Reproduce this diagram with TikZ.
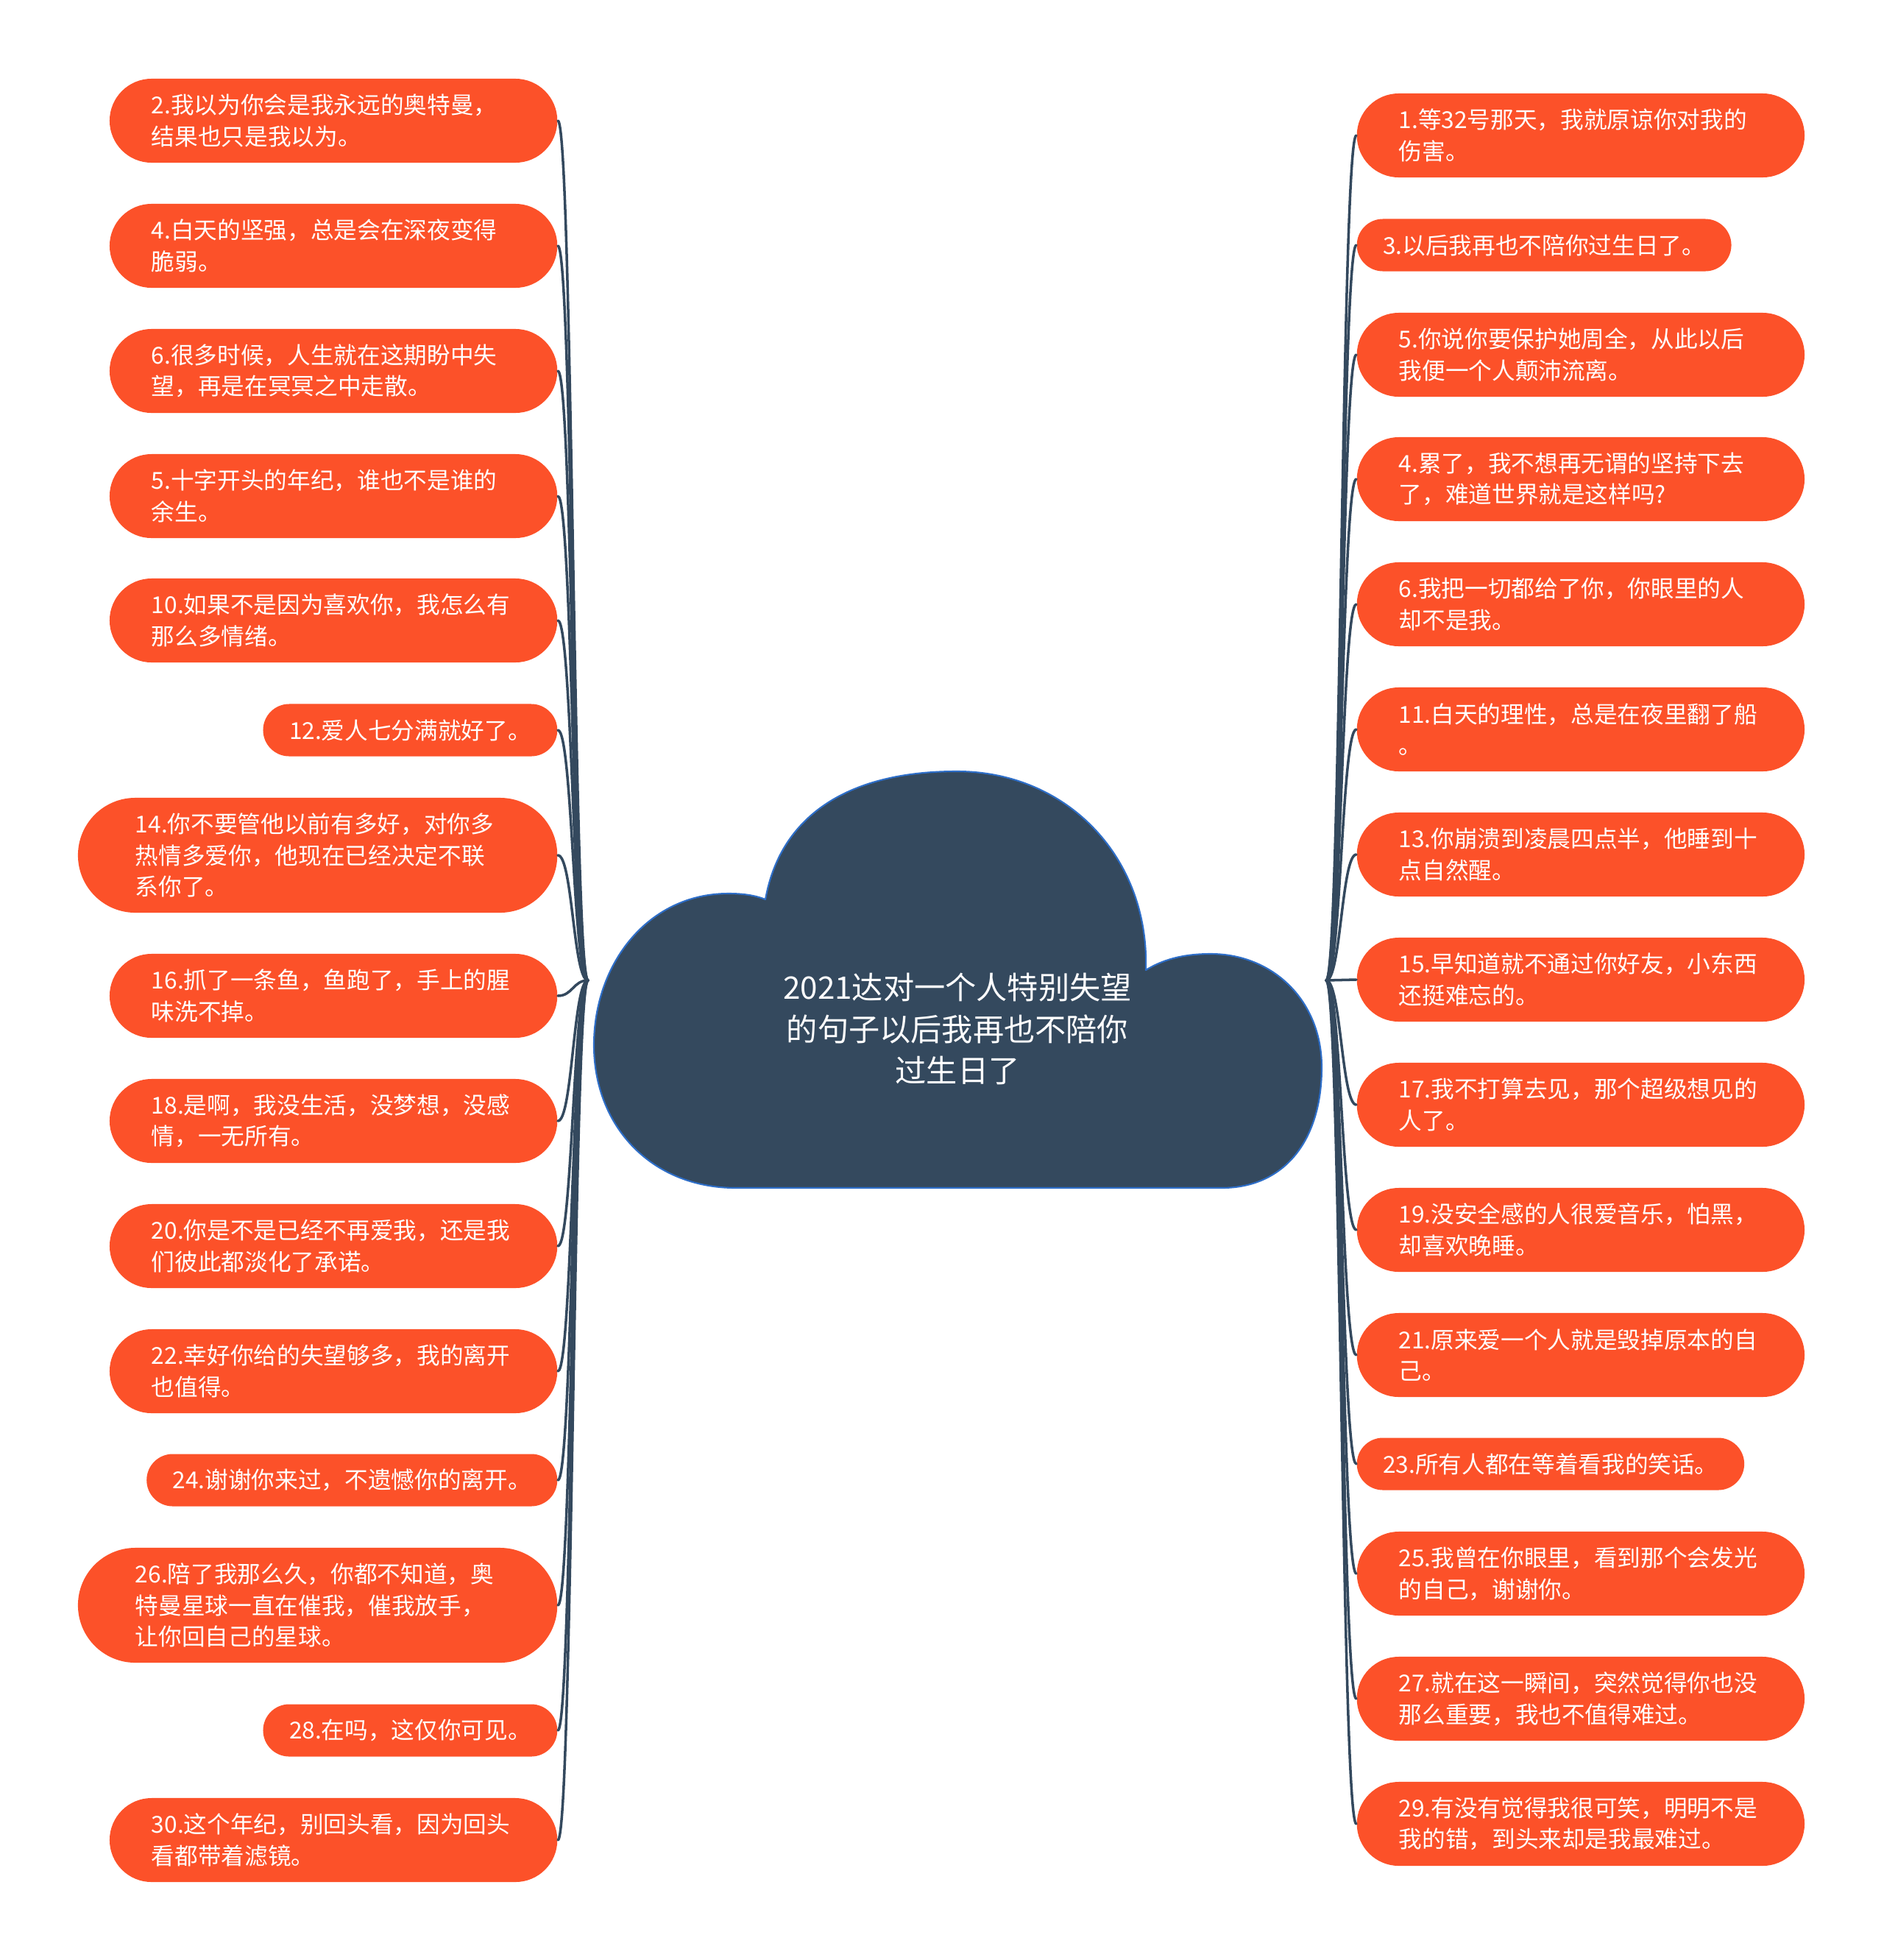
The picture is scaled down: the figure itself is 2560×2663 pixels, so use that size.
\documentclass[tikz,border=0pt]{standalone}
\usepackage{fontspec}
\setmainfont{Noto Sans CJK SC}
\definecolor{leaffill}{RGB}{252,81,41}
\definecolor{slate}{RGB}{52,73,94}
\definecolor{cloudedge}{RGB}{46,110,200}

\begin{document}
\begin{tikzpicture}[line join=round, line cap=round, x=0.01cm, y=-0.01cm]
\tikzset{every node/.style={text=white},
  leafbox/.style={rectangle, fill=leaffill, inner ysep=0pt, align=left, font=\fontsize{9pt}{12.1pt}\selectfont},
  oneline/.style={leafbox, minimum height=0.71cm, inner xsep=0.355cm, rounded corners=0.355cm},
  twoline/.style={leafbox, minimum height=1.14cm, text width=4.94cm, inner xsep=0.57cm, rounded corners=0.57cm},
  threeline/.style={leafbox, minimum height=1.56cm, text width=4.95cm, inner xsep=0.78cm, rounded corners=0.78cm},
  link/.style={draw=slate, line width=1pt}}
\useasboundingbox (0,0) rectangle (2560,2663);
% central cloud
\filldraw[fill=slate, draw=cloudedge, line width=0.6pt] (1000,1614) -- (1660,1614)
  .. controls (1745,1614) and (1796,1550) .. (1796,1450)
  .. controls (1796,1360) and (1730,1296) .. (1645,1296)
  .. controls (1605,1296) and (1578,1305) .. (1557,1318)
  .. controls (1562,1165) and (1450,1048) .. (1300,1048)
  .. controls (1150,1048) and (1060,1110) .. (1040,1222)
  .. controls (1025,1216) and (1008,1214) .. (990,1214)
  .. controls (880,1214) and (807,1310) .. (807,1420)
  .. controls (807,1530) and (885,1614) .. (1000,1614) -- cycle;
\node[align=center, font=\fontsize{12pt}{16pt}\selectfont] (root) at (1301,1398) {2021达对一个人特别失望\\的句子以后我再也不陪你\\过生日了};
\coordinate (rootL) at (799,1332);
\coordinate (rootR) at (1802,1332);
% left side
\node[twoline, anchor=east] (l1) at (758,164) {2.我以为你会是我永远的奥特曼，\\结果也只是我以为。};
\node[twoline, anchor=east] (l2) at (758,334) {4.白天的坚强，总是会在深夜变得\\脆弱。};
\node[twoline, anchor=east] (l3) at (758,504) {6.很多时候，人生就在这期盼中失\\望，再是在冥冥之中走散。};
\node[twoline, anchor=east] (l4) at (758,674) {5.十字开头的年纪，谁也不是谁的\\余生。};
\node[twoline, anchor=east] (l5) at (758,843) {10.如果不是因为喜欢你，我怎么有\\那么多情绪。};
\node[oneline, anchor=east] (l6) at (758,992) {12.爱人七分满就好了。};
\node[threeline, anchor=east] (l7) at (758,1162) {14.你不要管他以前有多好，对你多\\热情多爱你，他现在已经决定不联\\系你了。};
\node[twoline, anchor=east] (l8) at (758,1353) {16.抓了一条鱼，鱼跑了，手上的腥\\味洗不掉。};
\node[twoline, anchor=east] (l9) at (758,1523) {18.是啊，我没生活，没梦想，没感\\情，一无所有。};
\node[twoline, anchor=east] (l10) at (758,1693) {20.你是不是已经不再爱我，还是我\\们彼此都淡化了承诺。};
\node[twoline, anchor=east] (l11) at (758,1863) {22.幸好你给的失望够多，我的离开\\也值得。};
\node[oneline, anchor=east] (l12) at (758,2011) {24.谢谢你来过，不遗憾你的离开。};
\node[threeline, anchor=east] (l13) at (758,2181) {26.陪了我那么久，你都不知道，奥\\特曼星球一直在催我，催我放手，\\让你回自己的星球。};
\node[oneline, anchor=east] (l14) at (758,2351) {28.在吗，这仅你可见。};
\node[twoline, anchor=east] (l15) at (758,2500) {30.这个年纪，别回头看，因为回头\\看都带着滤镜。};
% right side
\node[twoline, anchor=west] (r1) at (1843,184) {1.等32号那天，我就原谅你对我的\\伤害。};
\node[oneline, anchor=west] (r2) at (1843,333) {3.以后我再也不陪你过生日了。};
\node[twoline, anchor=west] (r3) at (1843,482) {5.你说你要保护她周全，从此以后\\我便一个人颠沛流离。};
\node[twoline, anchor=west] (r4) at (1843,651) {4.累了，我不想再无谓的坚持下去\\了，难道世界就是这样吗?};
\node[twoline, anchor=west] (r5) at (1843,821) {6.我把一切都给了你，你眼里的人\\却不是我。};
\node[twoline, anchor=west] (r6) at (1843,991) {11.白天的理性，总是在夜里翻了船\\。};
\node[twoline, anchor=west] (r7) at (1843,1161) {13.你崩溃到凌晨四点半，他睡到十\\点自然醒。};
\node[twoline, anchor=west] (r8) at (1843,1331) {15.早知道就不通过你好友，小东西\\还挺难忘的。};
\node[twoline, anchor=west] (r9) at (1843,1501) {17.我不打算去见，那个超级想见的\\人了。};
\node[twoline, anchor=west] (r10) at (1843,1671) {19.没安全感的人很爱音乐，怕黑，\\却喜欢晚睡。};
\node[twoline, anchor=west] (r11) at (1843,1841) {21.原来爱一个人就是毁掉原本的自\\己。};
\node[oneline, anchor=west] (r12) at (1843,1989) {23.所有人都在等着看我的笑话。};
\node[twoline, anchor=west] (r13) at (1843,2138) {25.我曾在你眼里，看到那个会发光\\的自己，谢谢你。};
\node[twoline, anchor=west] (r14) at (1843,2308) {27.就在这一瞬间，突然觉得你也没\\那么重要，我也不值得难过。};
\node[twoline, anchor=west] (r15) at (1843,2478) {29.有没有觉得我很可笑，明明不是\\我的错，到头来却是我最难过。};
% branches
\foreach \n in {l1,l2,l3,l4,l5,l6,l7,l8,l9,l10,l11,l12,l13,l14,l15}
  \draw[link] (rootL) .. controls +(-20,0) and +(20,0) .. (\n.east);
\foreach \n in {r1,r2,r3,r4,r5,r6,r7,r8,r9,r10,r11,r12,r13,r14,r15}
  \draw[link] (rootR) .. controls +(20,0) and +(-20,0) .. (\n.west);
\end{tikzpicture}
\end{document}
